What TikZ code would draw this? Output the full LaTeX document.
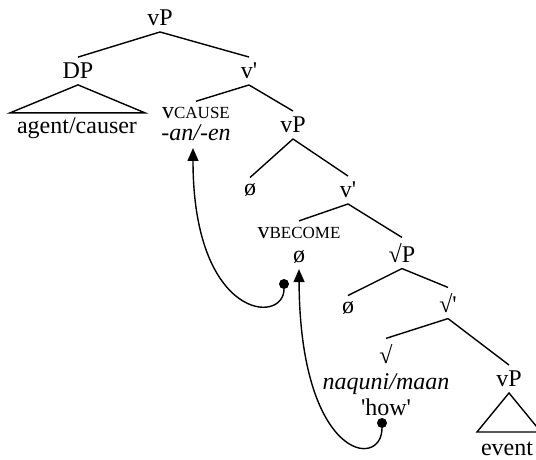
\documentclass[tikz,border=0pt]{standalone}
\usepackage{fontspec}
\setmainfont{Liberation Serif}
\usetikzlibrary{arrows.meta}
\newcommand{\flav}[1]{{\fontsize{8.5}{8.5}\selectfont #1}}
\newcommand{\pr}{\textquotesingle}
\begin{document}
\begin{tikzpicture}[x=0.5pt,y=-0.5pt,line width=0.7pt]
    \tikzstyle{every node}=[inner sep=3pt,outer sep=0pt,align=center,font=\fontsize{12}{12}\selectfont];
    \tikzstyle{mv}=[-{Triangle[length=6.5pt,width=5.5pt]}];
    \tikzstyle{dot}=[circle,fill,inner sep=0pt,minimum size=5pt];
    \useasboundingbox (0,0) rectangle (536,460);
    \node at (160,18)  (vp0) {vP};
    \node at (78,71)   (dp) {DP};
    \node at (249,71)  (vbar1) {v\pr};
    \node at (77,128)  (agent) {agent/causer};
    \node at (196,124) (vcause) {v\flav{CAUSE}\\[-1pt]\textit{-an/-en}};
    \node at (293,125) (vp1) {vP};
    \node at (250,190) (null1) {ø};
    \node at (348,190) (vbar2) {v\pr};
    \node at (299,245) (vbec) {v\flav{BECOME}\\ø};
    \node at (402,253) (rootp) {√P};
    \node at (348,308) (null2) {ø};
    \node at (448,303) (rootbar) {√\pr};
    \node at (386,380) (root) {√\\[1pt]\textit{naquni/maan}\\[1pt]\pr how\pr};
    \node at (509,379) (vp2) {vP};
    \node at (507,449) (event) {event};
    \draw (vp0.south) to (dp.north);
    \draw (vp0.south) to (vbar1.north);
    \draw (vbar1.south) to (vcause.north);
    \draw (vbar1.south) to (vp1.north);
    \draw (vp1.south) to (null1.north);
    \draw (vp1.south) to (vbar2.north);
    \draw (vbar2.south) to (vbec.north);
    \draw (vbar2.south) to (rootp.north);
    \draw (rootp.south) to (null2.north);
    \draw (rootp.south) to (rootbar.north);
    \draw (rootbar.south) to (root.north);
    \draw (rootbar.south) to (vp2.north);
    % triangles
    \draw (dp.south) -- ++(-68,28) -- ++(135,0) -- cycle;
    \draw (vp2.south) -- ++(-32,39) -- ++(64,0) -- cycle;
    % movement
    \node[dot] at (284,284) (d1) {};
    \node[dot] at (382,423) (d2) {};
    \coordinate (t1) at (193,148);
    \draw[mv] (d1) .. controls (284,325) and (193,320) .. (t1);
    \draw[mv] (d2) .. controls (382,470) and (300,460) .. (vbec.south);
\end{tikzpicture}
\end{document}
